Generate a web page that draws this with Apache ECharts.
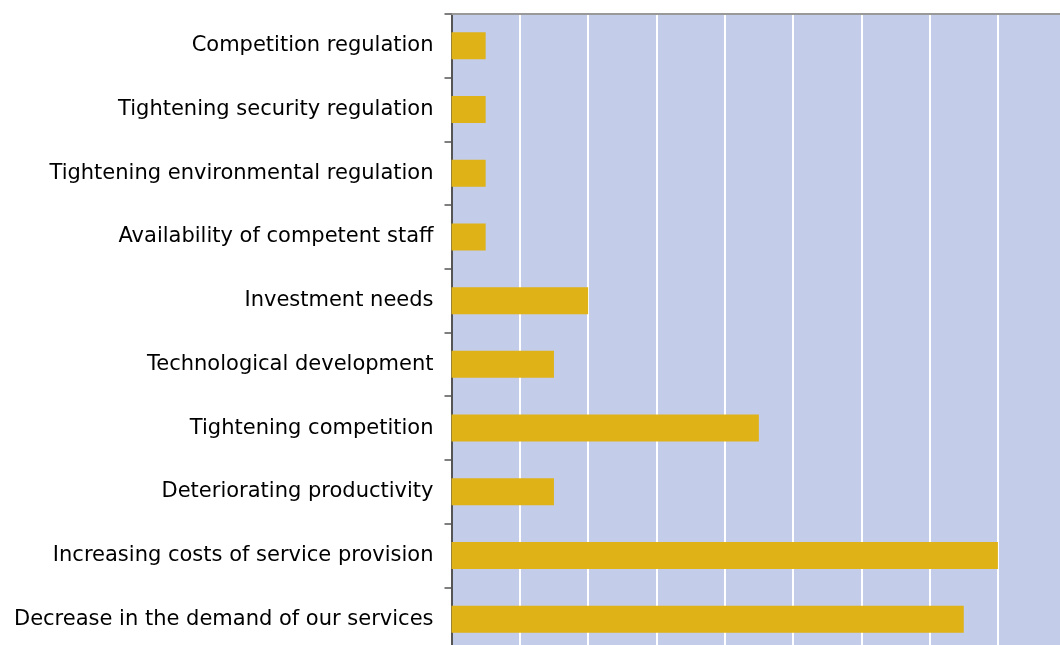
<!DOCTYPE html>
<html>
<head>
<meta charset="utf-8">
<script src="https://cdn.jsdelivr.net/npm/echarts@6/dist/echarts.min.js"></script>
<style>
  html, body { margin: 0; padding: 0; background: #ffffff; overflow: hidden; }
  #chart { width: 1067px; height: 651px; }
</style>
</head>
<body>
<div id="chart"></div>
<script>
// Reasons reported, listed top to bottom
const categories = [
  'Competition regulation',
  'Tightening security regulation',
  'Tightening environmental regulation',
  'Availability of competent staff',
  'Investment needs',
  'Technological development',
  'Tightening competition',
  'Deteriorating productivity',
  'Increasing costs of service provision',
  'Decrease in the demand of our services'
];
// Number of responses per reason
const responses = [1, 1, 1, 1, 4, 3, 9, 3, 16, 15];

const chart = echarts.init(document.getElementById('chart'), null, { renderer: 'canvas' });

chart.setOption({
  animation: false,
  backgroundColor: '#ffffff',
  grid: {
    left: 451.5,
    top: 14,
    right: 0.8,
    bottom: 0,
    show: true,
    backgroundColor: '#c3cce8',
    borderWidth: 0
  },
  xAxis: {
    type: 'value',
    position: 'top',
    min: 0,
    max: 18,
    interval: 2,
    axisLine: { show: true, lineStyle: { color: '#999999', width: 2 } },
    axisTick: { show: false },
    axisLabel: { show: false },
    splitLine: { show: true, showMinLine: false, lineStyle: { color: '#ffffff', width: 2 } }
  },
  yAxis: {
    type: 'category',
    data: categories,
    inverse: true,
    axisLine: { show: true, lineStyle: { color: '#555555', width: 2 } },
    axisTick: { show: true, length: 7, lineStyle: { color: '#555555', width: 1.5 } },
    axisLabel: {
      margin: 18,
      color: '#000000',
      fontFamily: 'DejaVu Sans, sans-serif',
      fontSize: 21
    }
  },
  series: [{
    type: 'bar',
    data: responses,
    barWidth: 27,
    itemStyle: { color: '#dfb217' }
  }]
});
</script>
</body>
</html>
